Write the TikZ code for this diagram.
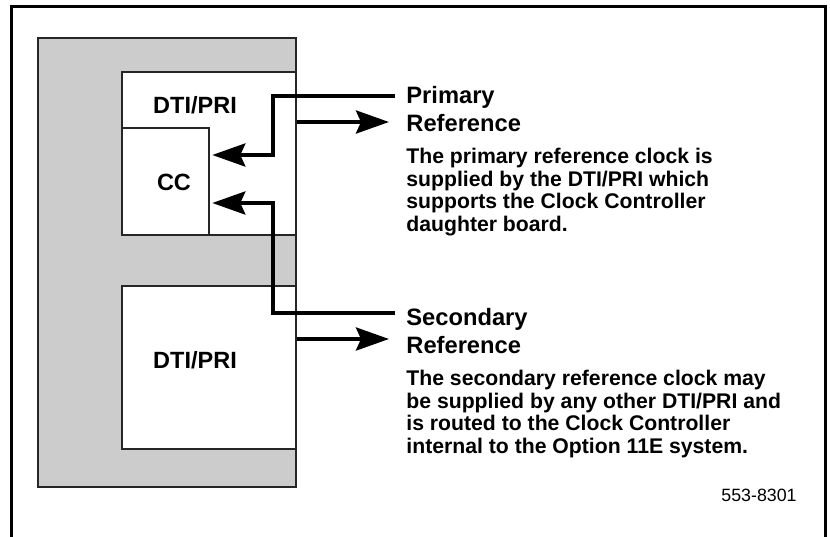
\documentclass[tikz,border=0pt]{standalone}
\usepackage{fontspec}
\setmainfont{Liberation Sans}
\usetikzlibrary{arrows.meta}
\usetikzlibrary{fit}
\tikzset{
	rackstyle/.style={rectangle,draw=black!85,line width=1.3pt,fill=black!20,inner sep=0pt},
	boardstyle/.style={rectangle,draw=black!85,line width=1.3pt,fill=white,inner sep=0pt},
	signalstyle/.style={line width=2pt,-{Stealth[length=16.5pt,width=11.5pt,inset=2.5pt]}},
	labelstyle/.style={inner sep=0pt,font={\fontsize{11.75}{13}\selectfont\bfseries}},
	headstyle/.style={anchor=north west,inner sep=0pt,align=left,font={\fontsize{11.85}{14}\selectfont\bfseries}},
	notestyle/.style={anchor=north west,inner sep=0pt,align=left,font={\fontsize{10.6}{11.25}\selectfont\bfseries}}
}

\begin{document}
\begin{tikzpicture}[x=0.5pt,y=-0.5pt]
	\useasboundingbox (0,0) rectangle (830,536);
	\draw[line width=1.5pt] (11,537) -- (11,6) -- (825,6) -- (825,537);
	% shelf and cards
	\node[rackstyle,fit={(38,38) (296,487)}] (rack) {};
	\node[boardstyle,fit={(122,72) (296,235)}] (dti1) {};
	\node[boardstyle,fit={(122,128) (209,235)}] (cc) {};
	\node[boardstyle,fit={(122,286) (296,449)}] (dti2) {};
	\node[labelstyle] (dti1lbl) at (195,105) {DTI/PRI};
	\node[labelstyle] (cclbl) at (174,182) {CC};
	\node[labelstyle] (dti2lbl) at (195,360) {DTI/PRI};
	% texts
	\node[headstyle] (prihead) at (406,86) {Primary\\Reference};
	\node[notestyle] (prinote) at (406,148) {The primary reference clock is\\supplied by the DTI/PRI which\\supports the Clock Controller\\daughter board.};
	\node[headstyle] (sechead) at (406,308) {Secondary\\Reference};
	\node[notestyle] (secnote) at (406,370) {The secondary reference clock may\\be supplied by any other DTI/PRI and\\is routed to the Clock Controller\\internal to the Option 11E system.};
	\node[inner sep=0pt,font={\fontsize{8.9}{10}\selectfont}] (figno) at (759,495) {553-8301};
	% clock paths
	\coordinate (pin) at (395,96);
	\coordinate (pa) at (273,155);
	\coordinate (pout) at (389,122);
	\coordinate (sin) at (395,313);
	\coordinate (sb) at (273,203);
	\coordinate (sout) at (389,339);
	\draw[signalstyle] (pin) -| (pa) -- ([xshift=1pt]pa -| cc.east);
	\draw[signalstyle] (dti1.east |- pout) -- (pout);
	\draw[signalstyle] (sin) -| (sb) -- ([xshift=1pt]sb -| cc.east);
	\draw[signalstyle] (dti2.east |- sout) -- (sout);
\end{tikzpicture}
\end{document}
